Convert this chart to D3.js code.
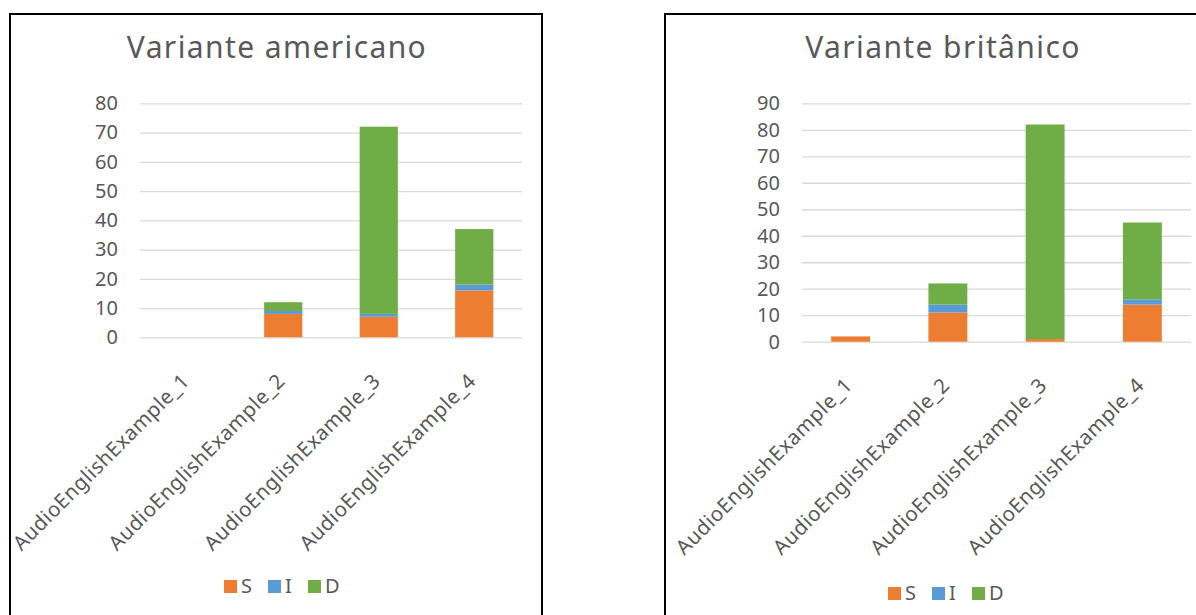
<!DOCTYPE html>
<html>
<head>
<meta charset="utf-8">
<script src="https://cdn.jsdelivr.net/npm/d3@7"></script>
<style>
  body { margin: 0; background: #fff; }
  svg { display: block; }
  svg text { font-family: "Noto Sans", "Open Sans", sans-serif; }
</style>
</head>
<body>
<svg width="1196" height="615"></svg>
<script>
// data
var categories = ["AudioEnglishExample_1", "AudioEnglishExample_2", "AudioEnglishExample_3", "AudioEnglishExample_4"];
var seriesNames = ["S", "I", "D"];
var seriesColors = ["#ED7D31", "#5B9BD5", "#70AD47"];

var americanS = [0, 8, 7, 16];
var americanI = [0, 1, 1, 2];
var americanD = [0, 3, 64, 19];
var americanTicks = [0, 10, 20, 30, 40, 50, 60, 70, 80];

var britishS = [2, 11, 1, 14];
var britishI = [0, 3, 0, 2];
var britishD = [0, 8, 81, 29];
var britishTicks = [0, 10, 20, 30, 40, 50, 60, 70, 80, 90];

var svg = d3.select("svg");
var textColor = "#595959";

function buildRows(s, i, d) {
  return categories.map(function(c, k) {
    return { cat: c, S: s[k], I: i[k], D: d[k] };
  });
}

function drawChart(opts) {
  var g = svg.append("g");

  // frame
  g.append("rect")
    .attr("x", opts.box[0])
    .attr("y", opts.box[1])
    .attr("width", opts.box[2])
    .attr("height", opts.box[3])
    .attr("fill", "none")
    .attr("stroke", "#000")
    .attr("stroke-width", 2);

  g.append("text")
    .attr("x", opts.titleX)
    .attr("y", 58)
    .attr("text-anchor", "middle")
    .attr("fill", textColor)
    .style("font-size", "30px")
    .style("letter-spacing", "1.4px")
    .text(opts.title);

  var x = d3.scaleBand()
    .domain(categories)
    .range([opts.left, opts.right])
    .paddingInner(0.6)
    .paddingOuter(0.3);

  var y = d3.scaleLinear()
    .domain([0, d3.max(opts.ticks)])
    .range([opts.bottom, opts.top]);

  var yAxis = d3.axisLeft(y)
    .tickValues(opts.ticks)
    .tickSize(-(opts.right - opts.left))
    .tickPadding(22);

  var ya = g.append("g")
    .attr("transform", "translate(" + opts.left + ",0)")
    .call(yAxis);
  ya.select(".domain").remove();
  ya.selectAll("line").attr("stroke", "#D9D9D9").attr("stroke-width", 1.3);
  ya.selectAll("text")
    .attr("fill", textColor)
    .style("font-size", "20px");

  var stack = d3.stack().keys(seriesNames);
  var layers = stack(opts.rows);

  g.selectAll(".layer")
    .data(layers)
    .enter().append("g")
      .attr("fill", function(d, i) { return seriesColors[i]; })
    .selectAll("rect")
    .data(function(d) { return d; })
    .enter().append("rect")
      .attr("x", function(d) { return x(d.data.cat); })
      .attr("width", x.bandwidth())
      .attr("y", function(d) { return y(d[1]); })
      .attr("height", function(d) { return y(d[0]) - y(d[1]); });

  var xAxis = d3.axisBottom(x).tickSize(0);
  var xa = g.append("g")
    .attr("transform", "translate(0," + opts.bottom + ")")
    .call(xAxis);
  xa.select(".domain").remove();
  xa.selectAll("text")
    .attr("fill", textColor)
    .style("font-size", "20.5px")
    .style("letter-spacing", "0.5px")
    .attr("text-anchor", "end")
    .attr("dy", null)
    .attr("y", null)
    .attr("transform", "translate(3,45) rotate(-45)");

  // legend
  var legend = g.append("g")
    .attr("transform", "translate(" + opts.legendX + "," + opts.legendY + ")");
  var offsets = [0, 44, 84];
  seriesNames.forEach(function(name, i) {
    legend.append("rect")
      .attr("x", offsets[i])
      .attr("y", -13)
      .attr("width", 13)
      .attr("height", 13)
      .attr("fill", seriesColors[i]);
    legend.append("text")
      .attr("x", offsets[i] + 17)
      .attr("y", 0)
      .attr("fill", textColor)
      .style("font-size", "20px")
      .text(name);
  });
}

drawChart({
  title: "Variante americano",
  titleX: 277,
  box: [10, 14, 532, 640],
  left: 140, right: 522, top: 103.3, bottom: 337.3,
  ticks: americanTicks,
  rows: buildRows(americanS, americanI, americanD),
  legendX: 224, legendY: 593
});

drawChart({
  title: "Variante britânico",
  titleX: 943,
  box: [665, 14, 560, 640],
  left: 802, right: 1191, top: 103.3, bottom: 341.7,
  ticks: britishTicks,
  rows: buildRows(britishS, britishI, britishD),
  legendX: 888, legendY: 600
});
</script>
</body>
</html>
